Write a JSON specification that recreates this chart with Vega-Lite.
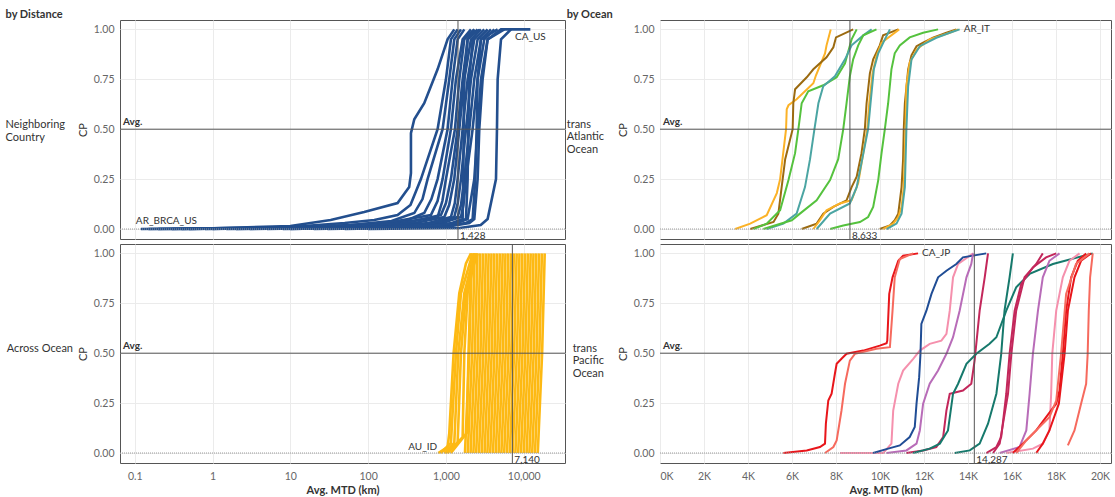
{
"$schema":"https://vega.github.io/schema/vega-lite/v6.json",
"background":"white",
"padding":{"left":5,"top":9,"right":0,"bottom":0},
"config":{
 "font":"Lato",
 "view":{"stroke":"#555","strokeWidth":1},
 "axis":{"gridColor":"#ebebeb","labelColor":"#666","labelFontSize":10.5,"titleFontSize":11,"titleColor":"#333","domain":false,"ticks":false,"labelFont":"Lato","titleFont":"Lato"},
 "header":{"labelFont":"Lato","labelFontSize":11,"labelColor":"#333"},
 "title":{"font":"Lato","fontSize":11,"fontWeight":"bold","color":"#333","anchor":"start","frame":"bounds","offset":-1}
},
"data":{"values":[
{"g":"NC","s":"n1","mtd":0.12,"cp":0},{"g":"NC","s":"n1","mtd":1,"cp":0.004},{"g":"NC","s":"n1","mtd":10,"cp":0.015},{"g":"NC","s":"n1","mtd":33,"cp":0.045},{"g":"NC","s":"n1","mtd":89,"cp":0.085},{"g":"NC","s":"n1","mtd":239,"cp":0.13},{"g":"NC","s":"n1","mtd":337,"cp":0.21},{"g":"NC","s":"n1","mtd":355,"cp":0.28},{"g":"NC","s":"n1","mtd":355,"cp":0.48},{"g":"NC","s":"n1","mtd":392,"cp":0.55},{"g":"NC","s":"n1","mtd":526,"cp":0.63},{"g":"NC","s":"n1","mtd":781,"cp":0.8},{"g":"NC","s":"n1","mtd":1050,"cp":0.95},{"g":"NC","s":"n1","mtd":1280,"cp":1},
{"g":"NC","s":"n2","mtd":0.3,"cp":0},{"g":"NC","s":"n2","mtd":10,"cp":0.01},{"g":"NC","s":"n2","mtd":50,"cp":0.03},{"g":"NC","s":"n2","mtd":120,"cp":0.045},{"g":"NC","s":"n2","mtd":239,"cp":0.07},{"g":"NC","s":"n2","mtd":350,"cp":0.12},{"g":"NC","s":"n2","mtd":477,"cp":0.25},{"g":"NC","s":"n2","mtd":781,"cp":0.5},{"g":"NC","s":"n2","mtd":1000,"cp":0.75},{"g":"NC","s":"n2","mtd":1159,"cp":0.95},{"g":"NC","s":"n2","mtd":1413,"cp":1},
{"g":"NC","s":"n3","mtd":0.5,"cp":0},{"g":"NC","s":"n3","mtd":10,"cp":0.008},{"g":"NC","s":"n3","mtd":60,"cp":0.02},{"g":"NC","s":"n3","mtd":200,"cp":0.04},{"g":"NC","s":"n3","mtd":392,"cp":0.08},{"g":"NC","s":"n3","mtd":500,"cp":0.15},{"g":"NC","s":"n3","mtd":581,"cp":0.25},{"g":"NC","s":"n3","mtd":906,"cp":0.5},{"g":"NC","s":"n3","mtd":1104,"cp":0.75},{"g":"NC","s":"n3","mtd":1280,"cp":0.95},{"g":"NC","s":"n3","mtd":1560,"cp":1},
{"g":"NC","s":"n4","mtd":1,"cp":0},{"g":"NC","s":"n4","mtd":20,"cp":0.01},{"g":"NC","s":"n4","mtd":100,"cp":0.02},{"g":"NC","s":"n4","mtd":300,"cp":0.04},{"g":"NC","s":"n4","mtd":526,"cp":0.08},{"g":"NC","s":"n4","mtd":650,"cp":0.15},{"g":"NC","s":"n4","mtd":781,"cp":0.25},{"g":"NC","s":"n4","mtd":1050,"cp":0.5},{"g":"NC","s":"n4","mtd":1218,"cp":0.75},{"g":"NC","s":"n4","mtd":1413,"cp":0.95},{"g":"NC","s":"n4","mtd":1722,"cp":1},
{"g":"NC","s":"n5","mtd":0.2,"cp":0},{"g":"NC","s":"n5","mtd":5,"cp":0.003},{"g":"NC","s":"n5","mtd":40,"cp":0.015},{"g":"NC","s":"n5","mtd":200,"cp":0.035},{"g":"NC","s":"n5","mtd":641,"cp":0.07},{"g":"NC","s":"n5","mtd":780,"cp":0.14},{"g":"NC","s":"n5","mtd":906,"cp":0.25},{"g":"NC","s":"n5","mtd":1159,"cp":0.5},{"g":"NC","s":"n5","mtd":1345,"cp":0.75},{"g":"NC","s":"n5","mtd":1639,"cp":0.95},{"g":"NC","s":"n5","mtd":2097,"cp":1},
{"g":"NC","s":"n6","mtd":2,"cp":0},{"g":"NC","s":"n6","mtd":30,"cp":0.01},{"g":"NC","s":"n6","mtd":200,"cp":0.025},{"g":"NC","s":"n6","mtd":781,"cp":0.06},{"g":"NC","s":"n6","mtd":900,"cp":0.14},{"g":"NC","s":"n6","mtd":1000,"cp":0.25},{"g":"NC","s":"n6","mtd":1306,"cp":0.5},{"g":"NC","s":"n6","mtd":1485,"cp":0.75},{"g":"NC","s":"n6","mtd":1722,"cp":0.95},{"g":"NC","s":"n6","mtd":2314,"cp":1},
{"g":"NC","s":"n7","mtd":0.8,"cp":0},{"g":"NC","s":"n7","mtd":50,"cp":0.01},{"g":"NC","s":"n7","mtd":300,"cp":0.03},{"g":"NC","s":"n7","mtd":862,"cp":0.07},{"g":"NC","s":"n7","mtd":1000,"cp":0.13},{"g":"NC","s":"n7","mtd":1159,"cp":0.25},{"g":"NC","s":"n7","mtd":1413,"cp":0.5},{"g":"NC","s":"n7","mtd":1639,"cp":0.75},{"g":"NC","s":"n7","mtd":1900,"cp":0.95},{"g":"NC","s":"n7","mtd":2553,"cp":1},
{"g":"NC","s":"n8","mtd":3,"cp":0},{"g":"NC","s":"n8","mtd":100,"cp":0.01},{"g":"NC","s":"n8","mtd":400,"cp":0.03},{"g":"NC","s":"n8","mtd":952,"cp":0.06},{"g":"NC","s":"n8","mtd":1100,"cp":0.12},{"g":"NC","s":"n8","mtd":1280,"cp":0.25},{"g":"NC","s":"n8","mtd":1485,"cp":0.5},{"g":"NC","s":"n8","mtd":1722,"cp":0.75},{"g":"NC","s":"n8","mtd":2097,"cp":0.95},{"g":"NC","s":"n8","mtd":2818,"cp":1},
{"g":"NC","s":"n9","mtd":5,"cp":0},{"g":"NC","s":"n9","mtd":150,"cp":0.01},{"g":"NC","s":"n9","mtd":600,"cp":0.03},{"g":"NC","s":"n9","mtd":1159,"cp":0.06},{"g":"NC","s":"n9","mtd":1300,"cp":0.13},{"g":"NC","s":"n9","mtd":1413,"cp":0.25},{"g":"NC","s":"n9","mtd":1639,"cp":0.5},{"g":"NC","s":"n9","mtd":1900,"cp":0.75},{"g":"NC","s":"n9","mtd":2314,"cp":0.95},{"g":"NC","s":"n9","mtd":3110,"cp":1},
{"g":"NC","s":"n10","mtd":1.5,"cp":0},{"g":"NC","s":"n10","mtd":100,"cp":0.005},{"g":"NC","s":"n10","mtd":500,"cp":0.02},{"g":"NC","s":"n10","mtd":1280,"cp":0.06},{"g":"NC","s":"n10","mtd":1420,"cp":0.13},{"g":"NC","s":"n10","mtd":1560,"cp":0.25},{"g":"NC","s":"n10","mtd":1809,"cp":0.5},{"g":"NC","s":"n10","mtd":2097,"cp":0.75},{"g":"NC","s":"n10","mtd":2553,"cp":0.95},{"g":"NC","s":"n10","mtd":3433,"cp":1},
{"g":"NC","s":"n11","mtd":10,"cp":0},{"g":"NC","s":"n11","mtd":200,"cp":0.01},{"g":"NC","s":"n11","mtd":800,"cp":0.03},{"g":"NC","s":"n11","mtd":1413,"cp":0.06},{"g":"NC","s":"n11","mtd":1560,"cp":0.12},{"g":"NC","s":"n11","mtd":1722,"cp":0.25},{"g":"NC","s":"n11","mtd":1996,"cp":0.5},{"g":"NC","s":"n11","mtd":2314,"cp":0.75},{"g":"NC","s":"n11","mtd":2818,"cp":0.95},{"g":"NC","s":"n11","mtd":3791,"cp":1},
{"g":"NC","s":"n12","mtd":0.15,"cp":0},{"g":"NC","s":"n12","mtd":20,"cp":0.005},{"g":"NC","s":"n12","mtd":300,"cp":0.015},{"g":"NC","s":"n12","mtd":900,"cp":0.03},{"g":"NC","s":"n12","mtd":1560,"cp":0.06},{"g":"NC","s":"n12","mtd":1680,"cp":0.12},{"g":"NC","s":"n12","mtd":1809,"cp":0.25},{"g":"NC","s":"n12","mtd":2203,"cp":0.5},{"g":"NC","s":"n12","mtd":2553,"cp":0.75},{"g":"NC","s":"n12","mtd":3110,"cp":0.95},{"g":"NC","s":"n12","mtd":4186,"cp":1},
{"g":"NC","s":"n13","mtd":20,"cp":0},{"g":"NC","s":"n13","mtd":500,"cp":0.01},{"g":"NC","s":"n13","mtd":1200,"cp":0.03},{"g":"NC","s":"n13","mtd":1639,"cp":0.05},{"g":"NC","s":"n13","mtd":1671,"cp":0.25},{"g":"NC","s":"n13","mtd":1688,"cp":0.5},{"g":"NC","s":"n13","mtd":1722,"cp":0.75},{"g":"NC","s":"n13","mtd":1900,"cp":0.95},{"g":"NC","s":"n13","mtd":2314,"cp":1},
{"g":"NC","s":"n14","mtd":8,"cp":0},{"g":"NC","s":"n14","mtd":300,"cp":0.008},{"g":"NC","s":"n14","mtd":1200,"cp":0.025},{"g":"NC","s":"n14","mtd":1809,"cp":0.05},{"g":"NC","s":"n14","mtd":1900,"cp":0.25},{"g":"NC","s":"n14","mtd":1937,"cp":0.5},{"g":"NC","s":"n14","mtd":1996,"cp":0.75},{"g":"NC","s":"n14","mtd":2203,"cp":0.95},{"g":"NC","s":"n14","mtd":2682,"cp":1},
{"g":"NC","s":"n15","mtd":30,"cp":0},{"g":"NC","s":"n15","mtd":800,"cp":0.01},{"g":"NC","s":"n15","mtd":1800,"cp":0.03},{"g":"NC","s":"n15","mtd":2203,"cp":0.05},{"g":"NC","s":"n15","mtd":2383,"cp":0.25},{"g":"NC","s":"n15","mtd":2479,"cp":0.5},{"g":"NC","s":"n15","mtd":2553,"cp":0.75},{"g":"NC","s":"n15","mtd":2818,"cp":0.95},{"g":"NC","s":"n15","mtd":4620,"cp":1},
{"g":"NC","s":"n16","mtd":50,"cp":0},{"g":"NC","s":"n16","mtd":1000,"cp":0.01},{"g":"NC","s":"n16","mtd":2000,"cp":0.03},{"g":"NC","s":"n16","mtd":2314,"cp":0.05},{"g":"NC","s":"n16","mtd":2553,"cp":0.25},{"g":"NC","s":"n16","mtd":2682,"cp":0.5},{"g":"NC","s":"n16","mtd":2960,"cp":0.75},{"g":"NC","s":"n16","mtd":3433,"cp":0.95},{"g":"NC","s":"n16","mtd":5630,"cp":1},
{"g":"NC","s":"n17","mtd":100,"cp":0},{"g":"NC","s":"n17","mtd":1500,"cp":0.005},{"g":"NC","s":"n17","mtd":2800,"cp":0.02},{"g":"NC","s":"n17","mtd":3433,"cp":0.05},{"g":"NC","s":"n17","mtd":4398,"cp":0.25},{"g":"NC","s":"n17","mtd":4528,"cp":0.5},{"g":"NC","s":"n17","mtd":4620,"cp":0.75},{"g":"NC","s":"n17","mtd":5100,"cp":0.95},{"g":"NC","s":"n17","mtd":6860,"cp":1},
{"g":"NC","s":"n18","mtd":0.4,"cp":0},{"g":"NC","s":"n18","mtd":50,"cp":0.005},{"g":"NC","s":"n18","mtd":600,"cp":0.015},{"g":"NC","s":"n18","mtd":1400,"cp":0.03},{"g":"NC","s":"n18","mtd":1900,"cp":0.05},{"g":"NC","s":"n18","mtd":2314,"cp":0.25},{"g":"NC","s":"n18","mtd":2553,"cp":0.5},{"g":"NC","s":"n18","mtd":2818,"cp":0.75},{"g":"NC","s":"n18","mtd":3433,"cp":0.95},{"g":"NC","s":"n18","mtd":5100,"cp":1},{"g":"NC","s":"n18","mtd":12160,"cp":1},
{"g":"AO","s":"y1","mtd":796,"cp":0},{"g":"AO","s":"y1","mtd":1050,"cp":0.03},{"g":"AO","s":"y1","mtd":1104,"cp":0.1},{"g":"AO","s":"y1","mtd":1255,"cp":0.5},{"g":"AO","s":"y1","mtd":1485,"cp":0.8},{"g":"AO","s":"y1","mtd":1809,"cp":0.95},{"g":"AO","s":"y1","mtd":2097,"cp":1},
{"g":"AO","s":"y2","mtd":862,"cp":0},{"g":"AO","s":"y2","mtd":1159,"cp":0.05},{"g":"AO","s":"y2","mtd":1345,"cp":0.5},{"g":"AO","s":"y2","mtd":1560,"cp":0.8},{"g":"AO","s":"y2","mtd":2203,"cp":1},
{"g":"AO","s":"y3","mtd":952,"cp":0},{"g":"AO","s":"y3","mtd":1280,"cp":0.05},{"g":"AO","s":"y3","mtd":1442,"cp":0.5},{"g":"AO","s":"y3","mtd":1722,"cp":0.8},{"g":"AO","s":"y3","mtd":2314,"cp":1},
{"g":"AO","s":"y4","mtd":1000,"cp":0},{"g":"AO","s":"y4","mtd":1413,"cp":0.05},{"g":"AO","s":"y4","mtd":1560,"cp":0.5},{"g":"AO","s":"y4","mtd":1809,"cp":0.8},{"g":"AO","s":"y4","mtd":2360,"cp":1},
{"g":"AO","s":"y5","mtd":1050,"cp":0},{"g":"AO","s":"y5","mtd":1639,"cp":0.08},{"g":"AO","s":"y5","mtd":1722,"cp":0.5},{"g":"AO","s":"y5","mtd":1900,"cp":0.8},{"g":"AO","s":"y5","mtd":2431,"cp":1},
{"g":"AO","s":"y6","mtd":1159,"cp":0},{"g":"AO","s":"y6","mtd":1850,"cp":0.1},{"g":"AO","s":"y6","mtd":1950,"cp":0.5},{"g":"AO","s":"y6","mtd":2097,"cp":0.9},{"g":"AO","s":"y6","mtd":2553,"cp":1},
{"g":"AO","s":"b0","mtd":1756,"cp":0},{"g":"AO","s":"b0","mtd":1995,"cp":0.5},{"g":"AO","s":"b0","mtd":2155,"cp":1},
{"g":"AO","s":"b1","mtd":1908,"cp":0},{"g":"AO","s":"b1","mtd":2168,"cp":0.5},{"g":"AO","s":"b1","mtd":2341,"cp":1},
{"g":"AO","s":"b2","mtd":2072,"cp":0},{"g":"AO","s":"b2","mtd":2355,"cp":0.5},{"g":"AO","s":"b2","mtd":2543,"cp":1},
{"g":"AO","s":"b3","mtd":2252,"cp":0},{"g":"AO","s":"b3","mtd":2559,"cp":0.5},{"g":"AO","s":"b3","mtd":2764,"cp":1},
{"g":"AO","s":"b4","mtd":2446,"cp":0},{"g":"AO","s":"b4","mtd":2780,"cp":0.5},{"g":"AO","s":"b4","mtd":3002,"cp":1},
{"g":"AO","s":"b5","mtd":2658,"cp":0},{"g":"AO","s":"b5","mtd":3020,"cp":0.5},{"g":"AO","s":"b5","mtd":3262,"cp":1},
{"g":"AO","s":"b6","mtd":2887,"cp":0},{"g":"AO","s":"b6","mtd":3281,"cp":0.5},{"g":"AO","s":"b6","mtd":3543,"cp":1},
{"g":"AO","s":"b7","mtd":3137,"cp":0},{"g":"AO","s":"b7","mtd":3565,"cp":0.5},{"g":"AO","s":"b7","mtd":3850,"cp":1},
{"g":"AO","s":"b8","mtd":3408,"cp":0},{"g":"AO","s":"b8","mtd":3873,"cp":0.5},{"g":"AO","s":"b8","mtd":4183,"cp":1},
{"g":"AO","s":"b9","mtd":3702,"cp":0},{"g":"AO","s":"b9","mtd":4207,"cp":0.5},{"g":"AO","s":"b9","mtd":4544,"cp":1},
{"g":"AO","s":"b10","mtd":4022,"cp":0},{"g":"AO","s":"b10","mtd":4571,"cp":0.5},{"g":"AO","s":"b10","mtd":4937,"cp":1},
{"g":"AO","s":"b11","mtd":4370,"cp":0},{"g":"AO","s":"b11","mtd":4966,"cp":0.5},{"g":"AO","s":"b11","mtd":5363,"cp":1},
{"g":"AO","s":"b12","mtd":4748,"cp":0},{"g":"AO","s":"b12","mtd":5395,"cp":0.5},{"g":"AO","s":"b12","mtd":5827,"cp":1},
{"g":"AO","s":"b13","mtd":5158,"cp":0},{"g":"AO","s":"b13","mtd":5861,"cp":0.5},{"g":"AO","s":"b13","mtd":6330,"cp":1},
{"g":"AO","s":"b14","mtd":5604,"cp":0},{"g":"AO","s":"b14","mtd":6368,"cp":0.5},{"g":"AO","s":"b14","mtd":6877,"cp":1},
{"g":"AO","s":"b15","mtd":6088,"cp":0},{"g":"AO","s":"b15","mtd":6918,"cp":0.5},{"g":"AO","s":"b15","mtd":7471,"cp":1},
{"g":"AO","s":"b16","mtd":6614,"cp":0},{"g":"AO","s":"b16","mtd":7516,"cp":0.5},{"g":"AO","s":"b16","mtd":8117,"cp":1},
{"g":"AO","s":"b17","mtd":7186,"cp":0},{"g":"AO","s":"b17","mtd":8166,"cp":0.5},{"g":"AO","s":"b17","mtd":8819,"cp":1},
{"g":"AO","s":"b18","mtd":7807,"cp":0},{"g":"AO","s":"b18","mtd":8872,"cp":0.5},{"g":"AO","s":"b18","mtd":9582,"cp":1},
{"g":"AO","s":"b19","mtd":8481,"cp":0},{"g":"AO","s":"b19","mtd":9638,"cp":0.5},{"g":"AO","s":"b19","mtd":10409,"cp":1},
{"g":"AO","s":"b20","mtd":9214,"cp":0},{"g":"AO","s":"b20","mtd":10471,"cp":0.5},{"g":"AO","s":"b20","mtd":11309,"cp":1},
{"g":"AO","s":"b21","mtd":10011,"cp":0},{"g":"AO","s":"b21","mtd":11376,"cp":0.5},{"g":"AO","s":"b21","mtd":12286,"cp":1},
{"g":"AO","s":"b22","mtd":10876,"cp":0},{"g":"AO","s":"b22","mtd":12359,"cp":0.5},{"g":"AO","s":"b22","mtd":13348,"cp":1},
{"g":"AO","s":"b23","mtd":11817,"cp":0},{"g":"AO","s":"b23","mtd":13428,"cp":0.5},{"g":"AO","s":"b23","mtd":14502,"cp":1},
{"g":"AO","s":"b24","mtd":12837,"cp":0},{"g":"AO","s":"b24","mtd":14588,"cp":0.5},{"g":"AO","s":"b24","mtd":15755,"cp":1},
{"g":"AO","s":"b25","mtd":13947,"cp":0},{"g":"AO","s":"b25","mtd":15849,"cp":0.5},{"g":"AO","s":"b25","mtd":17117,"cp":1},
{"g":"AO","s":"b26","mtd":15153,"cp":0},{"g":"AO","s":"b26","mtd":17219,"cp":0.5},{"g":"AO","s":"b26","mtd":18597,"cp":1},
{"g":"TA","s":"t1","c":"o","mtd":3420,"cp":0},{"g":"TA","s":"t1","c":"o","mtd":4100,"cp":0.027},{"g":"TA","s":"t1","c":"o","mtd":4850,"cp":0.069},{"g":"TA","s":"t1","c":"o","mtd":5310,"cp":0.18},{"g":"TA","s":"t1","c":"o","mtd":5460,"cp":0.25},{"g":"TA","s":"t1","c":"o","mtd":5730,"cp":0.5},{"g":"TA","s":"t1","c":"o","mtd":5760,"cp":0.6},{"g":"TA","s":"t1","c":"o","mtd":5840,"cp":0.62},{"g":"TA","s":"t1","c":"o","mtd":6210,"cp":0.65},{"g":"TA","s":"t1","c":"o","mtd":6970,"cp":0.73},{"g":"TA","s":"t1","c":"o","mtd":7090,"cp":0.77},{"g":"TA","s":"t1","c":"o","mtd":7500,"cp":0.88},{"g":"TA","s":"t1","c":"o","mtd":7570,"cp":0.92},{"g":"TA","s":"t1","c":"o","mtd":7760,"cp":1},
{"g":"TA","s":"t2","c":"b","mtd":4100,"cp":0},{"g":"TA","s":"t2","c":"b","mtd":5160,"cp":0.035},{"g":"TA","s":"t2","c":"b","mtd":5380,"cp":0.077},{"g":"TA","s":"t2","c":"b","mtd":5530,"cp":0.21},{"g":"TA","s":"t2","c":"b","mtd":5690,"cp":0.35},{"g":"TA","s":"t2","c":"b","mtd":6030,"cp":0.5},{"g":"TA","s":"t2","c":"b","mtd":6060,"cp":0.63},{"g":"TA","s":"t2","c":"b","mtd":6140,"cp":0.7},{"g":"TA","s":"t2","c":"b","mtd":6670,"cp":0.76},{"g":"TA","s":"t2","c":"b","mtd":6970,"cp":0.8},{"g":"TA","s":"t2","c":"b","mtd":7570,"cp":0.86},{"g":"TA","s":"t2","c":"b","mtd":7880,"cp":0.91},{"g":"TA","s":"t2","c":"b","mtd":8000,"cp":0.96},{"g":"TA","s":"t2","c":"b","mtd":8780,"cp":1},
{"g":"TA","s":"t3","c":"g","mtd":4250,"cp":0},{"g":"TA","s":"t3","c":"g","mtd":4850,"cp":0.027},{"g":"TA","s":"t3","c":"g","mtd":5460,"cp":0.094},{"g":"TA","s":"t3","c":"g","mtd":5840,"cp":0.245},{"g":"TA","s":"t3","c":"g","mtd":6140,"cp":0.38},{"g":"TA","s":"t3","c":"g","mtd":6290,"cp":0.5},{"g":"TA","s":"t3","c":"g","mtd":6440,"cp":0.63},{"g":"TA","s":"t3","c":"g","mtd":6740,"cp":0.69},{"g":"TA","s":"t3","c":"g","mtd":7420,"cp":0.72},{"g":"TA","s":"t3","c":"g","mtd":8030,"cp":0.76},{"g":"TA","s":"t3","c":"g","mtd":8410,"cp":0.83},{"g":"TA","s":"t3","c":"g","mtd":8560,"cp":0.89},{"g":"TA","s":"t3","c":"g","mtd":8710,"cp":0.95},{"g":"TA","s":"t3","c":"g","mtd":8940,"cp":1},
{"g":"TA","s":"t4","c":"t","mtd":4850,"cp":0},{"g":"TA","s":"t4","c":"t","mtd":5610,"cp":0.027},{"g":"TA","s":"t4","c":"t","mtd":6210,"cp":0.077},{"g":"TA","s":"t4","c":"t","mtd":6590,"cp":0.21},{"g":"TA","s":"t4","c":"t","mtd":6820,"cp":0.35},{"g":"TA","s":"t4","c":"t","mtd":7020,"cp":0.5},{"g":"TA","s":"t4","c":"t","mtd":7200,"cp":0.63},{"g":"TA","s":"t4","c":"t","mtd":7420,"cp":0.715},{"g":"TA","s":"t4","c":"t","mtd":7950,"cp":0.765},{"g":"TA","s":"t4","c":"t","mtd":8410,"cp":0.85},{"g":"TA","s":"t4","c":"t","mtd":8710,"cp":0.92},{"g":"TA","s":"t4","c":"t","mtd":9240,"cp":0.97},{"g":"TA","s":"t4","c":"t","mtd":9620,"cp":1},
{"g":"TA","s":"t5","c":"g","mtd":4700,"cp":0},{"g":"TA","s":"t5","c":"g","mtd":5990,"cp":0.044},{"g":"TA","s":"t5","c":"g","mtd":6360,"cp":0.077},{"g":"TA","s":"t5","c":"g","mtd":7120,"cp":0.144},{"g":"TA","s":"t5","c":"g","mtd":7730,"cp":0.245},{"g":"TA","s":"t5","c":"g","mtd":8100,"cp":0.35},{"g":"TA","s":"t5","c":"g","mtd":8330,"cp":0.5},{"g":"TA","s":"t5","c":"g","mtd":8480,"cp":0.63},{"g":"TA","s":"t5","c":"g","mtd":8630,"cp":0.765},{"g":"TA","s":"t5","c":"g","mtd":8780,"cp":0.85},{"g":"TA","s":"t5","c":"g","mtd":9010,"cp":0.92},{"g":"TA","s":"t5","c":"g","mtd":9240,"cp":0.97},{"g":"TA","s":"t5","c":"g","mtd":9840,"cp":1},
{"g":"TA","s":"t6","c":"b","mtd":6440,"cp":0},{"g":"TA","s":"t6","c":"b","mtd":7120,"cp":0.027},{"g":"TA","s":"t6","c":"b","mtd":7420,"cp":0.077},{"g":"TA","s":"t6","c":"b","mtd":7880,"cp":0.111},{"g":"TA","s":"t6","c":"b","mtd":8480,"cp":0.144},{"g":"TA","s":"t6","c":"b","mtd":8710,"cp":0.21},{"g":"TA","s":"t6","c":"b","mtd":8940,"cp":0.262},{"g":"TA","s":"t6","c":"b","mtd":9160,"cp":0.38},{"g":"TA","s":"t6","c":"b","mtd":9310,"cp":0.5},{"g":"TA","s":"t6","c":"b","mtd":9390,"cp":0.63},{"g":"TA","s":"t6","c":"b","mtd":9540,"cp":0.78},{"g":"TA","s":"t6","c":"b","mtd":9690,"cp":0.85},{"g":"TA","s":"t6","c":"b","mtd":9990,"cp":0.92},{"g":"TA","s":"t6","c":"b","mtd":10140,"cp":0.97},{"g":"TA","s":"t6","c":"b","mtd":10830,"cp":1},
{"g":"TA","s":"t7","c":"o","mtd":6970,"cp":0},{"g":"TA","s":"t7","c":"o","mtd":7270,"cp":0.044},{"g":"TA","s":"t7","c":"o","mtd":7570,"cp":0.094},{"g":"TA","s":"t7","c":"o","mtd":8180,"cp":0.128},{"g":"TA","s":"t7","c":"o","mtd":8710,"cp":0.144},{"g":"TA","s":"t7","c":"o","mtd":9010,"cp":0.23},{"g":"TA","s":"t7","c":"o","mtd":9240,"cp":0.38},{"g":"TA","s":"t7","c":"o","mtd":9420,"cp":0.5},{"g":"TA","s":"t7","c":"o","mtd":9510,"cp":0.63},{"g":"TA","s":"t7","c":"o","mtd":9660,"cp":0.78},{"g":"TA","s":"t7","c":"o","mtd":9840,"cp":0.866},{"g":"TA","s":"t7","c":"o","mtd":10070,"cp":0.933},{"g":"TA","s":"t7","c":"o","mtd":10870,"cp":1},
{"g":"TA","s":"t8","c":"t","mtd":7120,"cp":0},{"g":"TA","s":"t8","c":"t","mtd":7730,"cp":0.077},{"g":"TA","s":"t8","c":"t","mtd":8630,"cp":0.128},{"g":"TA","s":"t8","c":"t","mtd":8940,"cp":0.21},{"g":"TA","s":"t8","c":"t","mtd":9460,"cp":0.5},{"g":"TA","s":"t8","c":"t","mtd":9570,"cp":0.63},{"g":"TA","s":"t8","c":"t","mtd":9720,"cp":0.8},{"g":"TA","s":"t8","c":"t","mtd":9920,"cp":0.88},{"g":"TA","s":"t8","c":"t","mtd":10220,"cp":0.95},{"g":"TA","s":"t8","c":"t","mtd":10450,"cp":1},
{"g":"TA","s":"t9","c":"g","mtd":7730,"cp":0},{"g":"TA","s":"t9","c":"g","mtd":8330,"cp":0.018},{"g":"TA","s":"t9","c":"g","mtd":9090,"cp":0.035},{"g":"TA","s":"t9","c":"g","mtd":9460,"cp":0.06},{"g":"TA","s":"t9","c":"g","mtd":9690,"cp":0.111},{"g":"TA","s":"t9","c":"g","mtd":9920,"cp":0.245},{"g":"TA","s":"t9","c":"g","mtd":10070,"cp":0.38},{"g":"TA","s":"t9","c":"g","mtd":10220,"cp":0.5},{"g":"TA","s":"t9","c":"g","mtd":10370,"cp":0.63},{"g":"TA","s":"t9","c":"g","mtd":10520,"cp":0.8},{"g":"TA","s":"t9","c":"g","mtd":10670,"cp":0.88},{"g":"TA","s":"t9","c":"g","mtd":10900,"cp":0.92},{"g":"TA","s":"t9","c":"g","mtd":11350,"cp":0.96},{"g":"TA","s":"t9","c":"g","mtd":11960,"cp":0.983},{"g":"TA","s":"t9","c":"g","mtd":12640,"cp":1},
{"g":"TA","s":"t10","c":"b","mtd":9990,"cp":0},{"g":"TA","s":"t10","c":"b","mtd":10450,"cp":0.018},{"g":"TA","s":"t10","c":"b","mtd":10670,"cp":0.044},{"g":"TA","s":"t10","c":"b","mtd":10830,"cp":0.077},{"g":"TA","s":"t10","c":"b","mtd":10980,"cp":0.21},{"g":"TA","s":"t10","c":"b","mtd":11050,"cp":0.35},{"g":"TA","s":"t10","c":"b","mtd":11080,"cp":0.5},{"g":"TA","s":"t10","c":"b","mtd":11130,"cp":0.63},{"g":"TA","s":"t10","c":"b","mtd":11280,"cp":0.8},{"g":"TA","s":"t10","c":"b","mtd":11430,"cp":0.87},{"g":"TA","s":"t10","c":"b","mtd":11660,"cp":0.916},{"g":"TA","s":"t10","c":"b","mtd":11960,"cp":0.933},{"g":"TA","s":"t10","c":"b","mtd":12410,"cp":0.958},{"g":"TA","s":"t10","c":"b","mtd":13020,"cp":0.983},{"g":"TA","s":"t10","c":"b","mtd":13470,"cp":1},
{"g":"TA","s":"t11","c":"o","mtd":10140,"cp":0},{"g":"TA","s":"t11","c":"o","mtd":10600,"cp":0.027},{"g":"TA","s":"t11","c":"o","mtd":10830,"cp":0.06},{"g":"TA","s":"t11","c":"o","mtd":10980,"cp":0.111},{"g":"TA","s":"t11","c":"o","mtd":11080,"cp":0.21},{"g":"TA","s":"t11","c":"o","mtd":11160,"cp":0.5},{"g":"TA","s":"t11","c":"o","mtd":11200,"cp":0.715},{"g":"TA","s":"t11","c":"o","mtd":11350,"cp":0.832},{"g":"TA","s":"t11","c":"o","mtd":11660,"cp":0.899},{"g":"TA","s":"t11","c":"o","mtd":12260,"cp":0.95},{"g":"TA","s":"t11","c":"o","mtd":13170,"cp":0.983},{"g":"TA","s":"t11","c":"o","mtd":13550,"cp":1},
{"g":"TA","s":"t12","c":"t","mtd":10300,"cp":0},{"g":"TA","s":"t12","c":"t","mtd":10750,"cp":0.027},{"g":"TA","s":"t12","c":"t","mtd":10980,"cp":0.077},{"g":"TA","s":"t12","c":"t","mtd":11130,"cp":0.21},{"g":"TA","s":"t12","c":"t","mtd":11200,"cp":0.5},{"g":"TA","s":"t12","c":"t","mtd":11280,"cp":0.715},{"g":"TA","s":"t12","c":"t","mtd":11430,"cp":0.849},{"g":"TA","s":"t12","c":"t","mtd":11810,"cp":0.916},{"g":"TA","s":"t12","c":"t","mtd":12560,"cp":0.958},{"g":"TA","s":"t12","c":"t","mtd":13170,"cp":0.983},{"g":"TA","s":"t12","c":"t","mtd":13620,"cp":1},
{"g":"TP","s":"p1","c":"r","mtd":5610,"cp":0},{"g":"TP","s":"p1","c":"r","mtd":6670,"cp":0.013},{"g":"TP","s":"p1","c":"r","mtd":7270,"cp":0.03},{"g":"TP","s":"p1","c":"r","mtd":7500,"cp":0.047},{"g":"TP","s":"p1","c":"r","mtd":7540,"cp":0.147},{"g":"TP","s":"p1","c":"r","mtd":7650,"cp":0.263},{"g":"TP","s":"p1","c":"r","mtd":7800,"cp":0.297},{"g":"TP","s":"p1","c":"r","mtd":7950,"cp":0.397},{"g":"TP","s":"p1","c":"r","mtd":8030,"cp":0.447},{"g":"TP","s":"p1","c":"r","mtd":8250,"cp":0.472},{"g":"TP","s":"p1","c":"r","mtd":8480,"cp":0.497},{"g":"TP","s":"p1","c":"r","mtd":9240,"cp":0.513},{"g":"TP","s":"p1","c":"r","mtd":9990,"cp":0.538},{"g":"TP","s":"p1","c":"r","mtd":10300,"cp":0.55},{"g":"TP","s":"p1","c":"r","mtd":10330,"cp":0.563},{"g":"TP","s":"p1","c":"r","mtd":10420,"cp":0.797},{"g":"TP","s":"p1","c":"r","mtd":10570,"cp":0.88},{"g":"TP","s":"p1","c":"r","mtd":10830,"cp":0.963},{"g":"TP","s":"p1","c":"r","mtd":11050,"cp":0.988},{"g":"TP","s":"p1","c":"r","mtd":11730,"cp":1},
{"g":"TP","s":"p2","c":"s","mtd":7500,"cp":0},{"g":"TP","s":"p2","c":"s","mtd":7880,"cp":0.03},{"g":"TP","s":"p2","c":"s","mtd":8030,"cp":0.063},{"g":"TP","s":"p2","c":"s","mtd":8250,"cp":0.213},{"g":"TP","s":"p2","c":"s","mtd":8410,"cp":0.347},{"g":"TP","s":"p2","c":"s","mtd":8630,"cp":0.463},{"g":"TP","s":"p2","c":"s","mtd":8860,"cp":0.497},{"g":"TP","s":"p2","c":"s","mtd":9840,"cp":0.522},{"g":"TP","s":"p2","c":"s","mtd":10450,"cp":0.53},{"g":"TP","s":"p2","c":"s","mtd":10570,"cp":0.713},{"g":"TP","s":"p2","c":"s","mtd":10670,"cp":0.88},{"g":"TP","s":"p2","c":"s","mtd":10900,"cp":0.972},{"g":"TP","s":"p2","c":"s","mtd":11510,"cp":1},
{"g":"TP","s":"p3","c":"p","mtd":8180,"cp":0},{"g":"TP","s":"p3","c":"p","mtd":10150,"cp":0},{"g":"TP","s":"p3","c":"p","mtd":10520,"cp":0.047},{"g":"TP","s":"p3","c":"p","mtd":10600,"cp":0.213},{"g":"TP","s":"p3","c":"p","mtd":10830,"cp":0.347},{"g":"TP","s":"p3","c":"p","mtd":11050,"cp":0.413},{"g":"TP","s":"p3","c":"p","mtd":11510,"cp":0.472},{"g":"TP","s":"p3","c":"p","mtd":11810,"cp":0.513},{"g":"TP","s":"p3","c":"p","mtd":12260,"cp":0.547},{"g":"TP","s":"p3","c":"p","mtd":12790,"cp":0.563},{"g":"TP","s":"p3","c":"p","mtd":13020,"cp":0.597},{"g":"TP","s":"p3","c":"p","mtd":13170,"cp":0.713},{"g":"TP","s":"p3","c":"p","mtd":13320,"cp":0.88},{"g":"TP","s":"p3","c":"p","mtd":13550,"cp":0.947},{"g":"TP","s":"p3","c":"p","mtd":14230,"cp":1},
{"g":"TP","s":"p4","c":"n","mtd":9690,"cp":0},{"g":"TP","s":"p4","c":"n","mtd":10370,"cp":0.022},{"g":"TP","s":"p4","c":"n","mtd":10900,"cp":0.038},{"g":"TP","s":"p4","c":"n","mtd":11350,"cp":0.08},{"g":"TP","s":"p4","c":"n","mtd":11580,"cp":0.13},{"g":"TP","s":"p4","c":"n","mtd":11660,"cp":0.247},{"g":"TP","s":"p4","c":"n","mtd":11780,"cp":0.38},{"g":"TP","s":"p4","c":"n","mtd":11840,"cp":0.497},{"g":"TP","s":"p4","c":"n","mtd":11880,"cp":0.647},{"g":"TP","s":"p4","c":"n","mtd":12110,"cp":0.713},{"g":"TP","s":"p4","c":"n","mtd":12340,"cp":0.797},{"g":"TP","s":"p4","c":"n","mtd":12640,"cp":0.88},{"g":"TP","s":"p4","c":"n","mtd":13020,"cp":0.913},{"g":"TP","s":"p4","c":"n","mtd":13470,"cp":0.947},{"g":"TP","s":"p4","c":"n","mtd":13770,"cp":0.98},{"g":"TP","s":"p4","c":"n","mtd":14830,"cp":1},
{"g":"TP","s":"p5","c":"v","mtd":10300,"cp":0},{"g":"TP","s":"p5","c":"v","mtd":11200,"cp":0.013},{"g":"TP","s":"p5","c":"v","mtd":11660,"cp":0.047},{"g":"TP","s":"p5","c":"v","mtd":11810,"cp":0.113},{"g":"TP","s":"p5","c":"v","mtd":11960,"cp":0.247},{"g":"TP","s":"p5","c":"v","mtd":12260,"cp":0.347},{"g":"TP","s":"p5","c":"v","mtd":12640,"cp":0.413},{"g":"TP","s":"p5","c":"v","mtd":13020,"cp":0.497},{"g":"TP","s":"p5","c":"v","mtd":13320,"cp":0.58},{"g":"TP","s":"p5","c":"v","mtd":13620,"cp":0.713},{"g":"TP","s":"p5","c":"v","mtd":13930,"cp":0.88},{"g":"TP","s":"p5","c":"v","mtd":14150,"cp":0.947},{"g":"TP","s":"p5","c":"v","mtd":14230,"cp":1},
{"g":"TP","s":"p6","c":"m","mtd":11200,"cp":0},{"g":"TP","s":"p6","c":"m","mtd":11960,"cp":0.013},{"g":"TP","s":"p6","c":"m","mtd":12560,"cp":0.03},{"g":"TP","s":"p6","c":"m","mtd":12870,"cp":0.08},{"g":"TP","s":"p6","c":"m","mtd":13020,"cp":0.213},{"g":"TP","s":"p6","c":"m","mtd":13170,"cp":0.297},{"g":"TP","s":"p6","c":"m","mtd":13770,"cp":0.313},{"g":"TP","s":"p6","c":"m","mtd":14150,"cp":0.347},{"g":"TP","s":"p6","c":"m","mtd":14300,"cp":0.463},{"g":"TP","s":"p6","c":"m","mtd":14530,"cp":0.713},{"g":"TP","s":"p6","c":"m","mtd":14760,"cp":0.88},{"g":"TP","s":"p6","c":"m","mtd":14910,"cp":1},
{"g":"TP","s":"p7","c":"d","mtd":11510,"cp":0},{"g":"TP","s":"p7","c":"d","mtd":12260,"cp":0.022},{"g":"TP","s":"p7","c":"d","mtd":12720,"cp":0.047},{"g":"TP","s":"p7","c":"d","mtd":13090,"cp":0.113},{"g":"TP","s":"p7","c":"d","mtd":13320,"cp":0.297},{"g":"TP","s":"p7","c":"d","mtd":13550,"cp":0.347},{"g":"TP","s":"p7","c":"d","mtd":13930,"cp":0.447},{"g":"TP","s":"p7","c":"d","mtd":14380,"cp":0.497},{"g":"TP","s":"p7","c":"d","mtd":14980,"cp":0.547},{"g":"TP","s":"p7","c":"d","mtd":15290,"cp":0.58},{"g":"TP","s":"p7","c":"d","mtd":15740,"cp":0.713},{"g":"TP","s":"p7","c":"d","mtd":16190,"cp":0.83},{"g":"TP","s":"p7","c":"d","mtd":16800,"cp":0.897},{"g":"TP","s":"p7","c":"d","mtd":17860,"cp":0.947},{"g":"TP","s":"p7","c":"d","mtd":19670,"cp":1},
{"g":"TP","s":"p8","c":"d","mtd":13400,"cp":0},{"g":"TP","s":"p8","c":"d","mtd":14080,"cp":0.013},{"g":"TP","s":"p8","c":"d","mtd":14530,"cp":0.047},{"g":"TP","s":"p8","c":"d","mtd":14910,"cp":0.147},{"g":"TP","s":"p8","c":"d","mtd":15290,"cp":0.297},{"g":"TP","s":"p8","c":"d","mtd":15510,"cp":0.497},{"g":"TP","s":"p8","c":"d","mtd":15660,"cp":0.713},{"g":"TP","s":"p8","c":"d","mtd":15890,"cp":0.88},{"g":"TP","s":"p8","c":"d","mtd":16040,"cp":1},
{"g":"TP","s":"p9","c":"m","mtd":14830,"cp":0},{"g":"TP","s":"p9","c":"m","mtd":15290,"cp":0.03},{"g":"TP","s":"p9","c":"m","mtd":15510,"cp":0.08},{"g":"TP","s":"p9","c":"m","mtd":15740,"cp":0.297},{"g":"TP","s":"p9","c":"m","mtd":15890,"cp":0.497},{"g":"TP","s":"p9","c":"m","mtd":16120,"cp":0.713},{"g":"TP","s":"p9","c":"m","mtd":16420,"cp":0.847},{"g":"TP","s":"p9","c":"m","mtd":16950,"cp":0.93},{"g":"TP","s":"p9","c":"m","mtd":17550,"cp":0.98},{"g":"TP","s":"p9","c":"m","mtd":18010,"cp":1},
{"g":"TP","s":"p10","c":"m","mtd":15140,"cp":0},{"g":"TP","s":"p10","c":"m","mtd":15440,"cp":0.047},{"g":"TP","s":"p10","c":"m","mtd":15820,"cp":0.297},{"g":"TP","s":"p10","c":"m","mtd":15970,"cp":0.497},{"g":"TP","s":"p10","c":"m","mtd":16190,"cp":0.713},{"g":"TP","s":"p10","c":"m","mtd":16570,"cp":0.88},{"g":"TP","s":"p10","c":"m","mtd":17100,"cp":0.947},{"g":"TP","s":"p10","c":"m","mtd":17400,"cp":1},
{"g":"TP","s":"p11","c":"v","mtd":15440,"cp":0},{"g":"TP","s":"p11","c":"v","mtd":16340,"cp":0.03},{"g":"TP","s":"p11","c":"v","mtd":16650,"cp":0.113},{"g":"TP","s":"p11","c":"v","mtd":16800,"cp":0.297},{"g":"TP","s":"p11","c":"v","mtd":16950,"cp":0.497},{"g":"TP","s":"p11","c":"v","mtd":17180,"cp":0.713},{"g":"TP","s":"p11","c":"v","mtd":17400,"cp":0.88},{"g":"TP","s":"p11","c":"v","mtd":17700,"cp":0.963},{"g":"TP","s":"p11","c":"v","mtd":18160,"cp":1},
{"g":"TP","s":"p12","c":"p","mtd":15740,"cp":0},{"g":"TP","s":"p12","c":"p","mtd":16950,"cp":0.022},{"g":"TP","s":"p12","c":"p","mtd":17400,"cp":0.047},{"g":"TP","s":"p12","c":"p","mtd":17700,"cp":0.113},{"g":"TP","s":"p12","c":"p","mtd":17780,"cp":0.297},{"g":"TP","s":"p12","c":"p","mtd":17830,"cp":0.497},{"g":"TP","s":"p12","c":"p","mtd":18010,"cp":0.713},{"g":"TP","s":"p12","c":"p","mtd":18310,"cp":0.88},{"g":"TP","s":"p12","c":"p","mtd":18610,"cp":0.963},{"g":"TP","s":"p12","c":"p","mtd":19070,"cp":1},
{"g":"TP","s":"p13","c":"r","mtd":16040,"cp":0},{"g":"TP","s":"p13","c":"r","mtd":16490,"cp":0.047},{"g":"TP","s":"p13","c":"r","mtd":17100,"cp":0.113},{"g":"TP","s":"p13","c":"r","mtd":17550,"cp":0.18},{"g":"TP","s":"p13","c":"r","mtd":18010,"cp":0.247},{"g":"TP","s":"p13","c":"r","mtd":18160,"cp":0.313},{"g":"TP","s":"p13","c":"r","mtd":18310,"cp":0.497},{"g":"TP","s":"p13","c":"r","mtd":18460,"cp":0.713},{"g":"TP","s":"p13","c":"r","mtd":18690,"cp":0.88},{"g":"TP","s":"p13","c":"r","mtd":18990,"cp":0.963},{"g":"TP","s":"p13","c":"r","mtd":19370,"cp":1},
{"g":"TP","s":"p14","c":"r","mtd":17100,"cp":0},{"g":"TP","s":"p14","c":"r","mtd":17400,"cp":0.047},{"g":"TP","s":"p14","c":"r","mtd":17700,"cp":0.113},{"g":"TP","s":"p14","c":"r","mtd":18130,"cp":0.247},{"g":"TP","s":"p14","c":"r","mtd":18390,"cp":0.497},{"g":"TP","s":"p14","c":"r","mtd":18540,"cp":0.713},{"g":"TP","s":"p14","c":"r","mtd":18840,"cp":0.88},{"g":"TP","s":"p14","c":"r","mtd":19140,"cp":0.963},{"g":"TP","s":"p14","c":"r","mtd":19590,"cp":1},
{"g":"TP","s":"p15","c":"s","mtd":16190,"cp":0},{"g":"TP","s":"p15","c":"s","mtd":16650,"cp":0.063},{"g":"TP","s":"p15","c":"s","mtd":17250,"cp":0.13},{"g":"TP","s":"p15","c":"s","mtd":17700,"cp":0.18},{"g":"TP","s":"p15","c":"s","mtd":18010,"cp":0.263},{"g":"TP","s":"p15","c":"s","mtd":18230,"cp":0.497},{"g":"TP","s":"p15","c":"s","mtd":18460,"cp":0.797},{"g":"TP","s":"p15","c":"s","mtd":18910,"cp":0.947},{"g":"TP","s":"p15","c":"s","mtd":19520,"cp":1},
{"g":"TP","s":"p16","c":"s","mtd":18540,"cp":0.038},{"g":"TP","s":"p16","c":"s","mtd":18840,"cp":0.113},{"g":"TP","s":"p16","c":"s","mtd":19140,"cp":0.247},{"g":"TP","s":"p16","c":"s","mtd":19370,"cp":0.347},{"g":"TP","s":"p16","c":"s","mtd":19440,"cp":0.497},{"g":"TP","s":"p16","c":"s","mtd":19490,"cp":0.713},{"g":"TP","s":"p16","c":"s","mtd":19550,"cp":0.88},{"g":"TP","s":"p16","c":"s","mtd":19670,"cp":1},
{"g":"NC","k":"avg","mtd":1428,"cp":0.5},
{"g":"AO","k":"avg","mtd":7140,"cp":0.5},
{"g":"TA","k":"avg","mtd":8633,"cp":0.5},
{"g":"TP","k":"avg","mtd":14287,"cp":0.5},
{"g":"NC","k":"name","mtd":0.12,"cp":0,"lab":"AR_BRCA_US"},
{"g":"NC","k":"name","mtd":12160,"cp":1,"lab":"CA_US"},
{"g":"AO","k":"name","mtd":796,"cp":0,"lab":"AU_ID"},
{"g":"TA","k":"name","mtd":13620,"cp":1,"lab":"AR_IT"},
{"g":"TP","k":"name","mtd":11730,"cp":1,"lab":"CA_JP"}
]},
"resolve":{"scale":{"color":"independent"}},
"spacing":0,
"hconcat":[
{
 "title":{"text":"by Distance"},
 "transform":[{"filter":"datum.g == 'NC' || datum.g == 'AO'"}],
 "facet":{"row":{"field":"g","type":"nominal","sort":["NC","AO"],"header":{"title":null,"labelAngle":0,"labelAlign":"left","labelBaseline":"bottom","labelOrient":"left","labelPadding":4,"labelExpr":"datum.value == 'NC' ? ['Neighboring\u2800','Country'] : 'Across Ocean'"}}},
 "spacing":{"row":1},
 "spec":{
  "width":445,"height":219,
  "layer":[
   {"transform":[{"filter":"isValid(datum.s)"}],
    "mark":{"type":"line","strokeWidth":2.6},
    "encoding":{
     "x":{"field":"mtd","type":"quantitative","scale":{"type":"log","domain":[0.0647,33900],"nice":false},
          "axis":{"title":"Avg. MTD (km)","titleFontWeight":"bold","format":",","values":[0.1,1,10,100,1000,10000],"labelPadding":5,"titlePadding":3}},
     "y":{"field":"cp","type":"quantitative","scale":{"domain":[-0.05,1.047],"nice":false,"zero":false},
          "axis":{"title":"CP","titleFontWeight":"normal","format":".2f","values":[0,0.25,0.5,0.75,1],"labelPadding":5,"titlePadding":6,"minExtent":25,"maxExtent":25}},
     "detail":{"field":"s"},
     "color":{"field":"g","type":"nominal","scale":{"domain":["NC","AO"],"range":["#234f8e","#fdb913"]},"legend":null},
     "order":[{"field":"cp"},{"field":"mtd"}]
    }},
   {"transform":[{"filter":"datum.k == 'avg'"}],"mark":{"type":"rule","color":"#9a9a9a","strokeDash":[1,1],"strokeWidth":1},"encoding":{"y":{"datum":0}}},
   {"transform":[{"filter":"datum.k == 'avg'"}],"mark":{"type":"rule","color":"#555","strokeWidth":1},"encoding":{"y":{"field":"cp","type":"quantitative"}}},
   {"transform":[{"filter":"datum.k == 'avg'"}],"mark":{"type":"rule","color":"#555","strokeWidth":1},"encoding":{"x":{"field":"mtd","type":"quantitative"}}},
   {"transform":[{"filter":"datum.k == 'avg'"}],"mark":{"type":"text","align":"left","baseline":"top","dx":2,"dy":2,"fontSize":10,"color":"#333"},"encoding":{"x":{"field":"mtd","type":"quantitative"},"y":{"datum":0},"text":{"field":"mtd","format":","}}},
   {"transform":[{"filter":"datum.k == 'avg'"}],"mark":{"type":"text","align":"left","baseline":"bottom","dx":3,"dy":-2,"fontSize":10,"fontWeight":"bold","color":"#333","text":"Avg."},"encoding":{"x":{"datum":0.0647},"y":{"field":"cp","type":"quantitative"}}},
   {"transform":[{"filter":"datum.lab == 'AR_BRCA_US'"}],"mark":{"type":"text","align":"left","baseline":"bottom","dx":-5,"dy":-3,"fontSize":10,"color":"#333"},"encoding":{"x":{"field":"mtd","type":"quantitative"},"y":{"field":"cp","type":"quantitative"},"text":{"field":"lab"}}},
   {"transform":[{"filter":"datum.lab == 'CA_US'"}],"mark":{"type":"text","align":"center","baseline":"top","dy":3,"fontSize":10,"color":"#333"},"encoding":{"x":{"field":"mtd","type":"quantitative"},"y":{"field":"cp","type":"quantitative"},"text":{"field":"lab"}}},
   {"transform":[{"filter":"datum.lab == 'AU_ID'"}],"mark":{"type":"text","align":"right","baseline":"bottom","dx":-1,"dy":-1,"fontSize":10,"color":"#333"},"encoding":{"x":{"field":"mtd","type":"quantitative"},"y":{"field":"cp","type":"quantitative"},"text":{"field":"lab"}}}
  ]
 }
},
{
 "title":{"text":"by Ocean"},
 "transform":[{"filter":"datum.g == 'TA' || datum.g == 'TP'"}],
 "facet":{"row":{"field":"g","type":"nominal","sort":["TA","TP"],"header":{"title":null,"labelAngle":0,"labelAlign":"left","labelBaseline":"bottom","labelLineHeight":12.5,"labelOrient":"left","labelPadding":13,"labelExpr":"datum.value == 'TA' ? ['trans','Atlantic','Ocean'] : ['trans','Pacific','Ocean']"}}},
 "spacing":{"row":1},
 "spec":{
  "width":451,"height":219,
  "layer":[
   {"transform":[{"filter":"isValid(datum.s)"}],
    "mark":{"type":"line","strokeWidth":2},
    "encoding":{
     "x":{"field":"mtd","type":"quantitative","scale":{"domain":[0,20500],"nice":false,"zero":false},
          "axis":{"title":"Avg. MTD (km)","titleFontWeight":"bold","values":[0,2000,4000,6000,8000,10000,12000,14000,16000,18000,20000],"labelExpr":"(datum.value/1000) + 'K'","labelFlush":true,"labelPadding":5,"titlePadding":3}},
     "y":{"field":"cp","type":"quantitative","scale":{"domain":[-0.05,1.047],"nice":false,"zero":false},
          "axis":{"title":"CP","titleFontWeight":"normal","format":".2f","values":[0,0.25,0.5,0.75,1],"labelPadding":5,"titlePadding":6,"minExtent":25,"maxExtent":25}},
     "detail":{"field":"s"},
     "color":{"field":"c","type":"nominal","scale":{"domain":["o","b","t","g","r","s","p","n","v","m","d"],"range":["#fbb227","#9b6a10","#4ba5a3","#55c23e","#e8161b","#f66a5e","#f590ad","#204d95","#b86cb8","#c3275b","#16796c"]},"legend":null},
     "order":[{"field":"cp"},{"field":"mtd"}]
    }},
   {"transform":[{"filter":"datum.k == 'avg'"}],"mark":{"type":"rule","color":"#9a9a9a","strokeDash":[1,1],"strokeWidth":1},"encoding":{"y":{"datum":0}}},
   {"transform":[{"filter":"datum.k == 'avg'"}],"mark":{"type":"rule","color":"#555","strokeWidth":1},"encoding":{"y":{"field":"cp","type":"quantitative"}}},
   {"transform":[{"filter":"datum.k == 'avg'"}],"mark":{"type":"rule","color":"#555","strokeWidth":1},"encoding":{"x":{"field":"mtd","type":"quantitative"}}},
   {"transform":[{"filter":"datum.k == 'avg'"}],"mark":{"type":"text","align":"left","baseline":"top","dx":2,"dy":2,"fontSize":10,"color":"#333"},"encoding":{"x":{"field":"mtd","type":"quantitative"},"y":{"datum":0},"text":{"field":"mtd","format":","}}},
   {"transform":[{"filter":"datum.k == 'avg'"}],"mark":{"type":"text","align":"left","baseline":"bottom","dx":3,"dy":-2,"fontSize":10,"fontWeight":"bold","color":"#333","text":"Avg."},"encoding":{"x":{"datum":0},"y":{"field":"cp","type":"quantitative"}}},
   {"transform":[{"filter":"datum.k == 'name'"}],"mark":{"type":"text","align":"left","baseline":"middle","dx":4,"fontSize":10,"color":"#333"},"encoding":{"x":{"field":"mtd","type":"quantitative"},"y":{"field":"cp","type":"quantitative"},"text":{"field":"lab"}}}
  ]
 }
}
]
}
